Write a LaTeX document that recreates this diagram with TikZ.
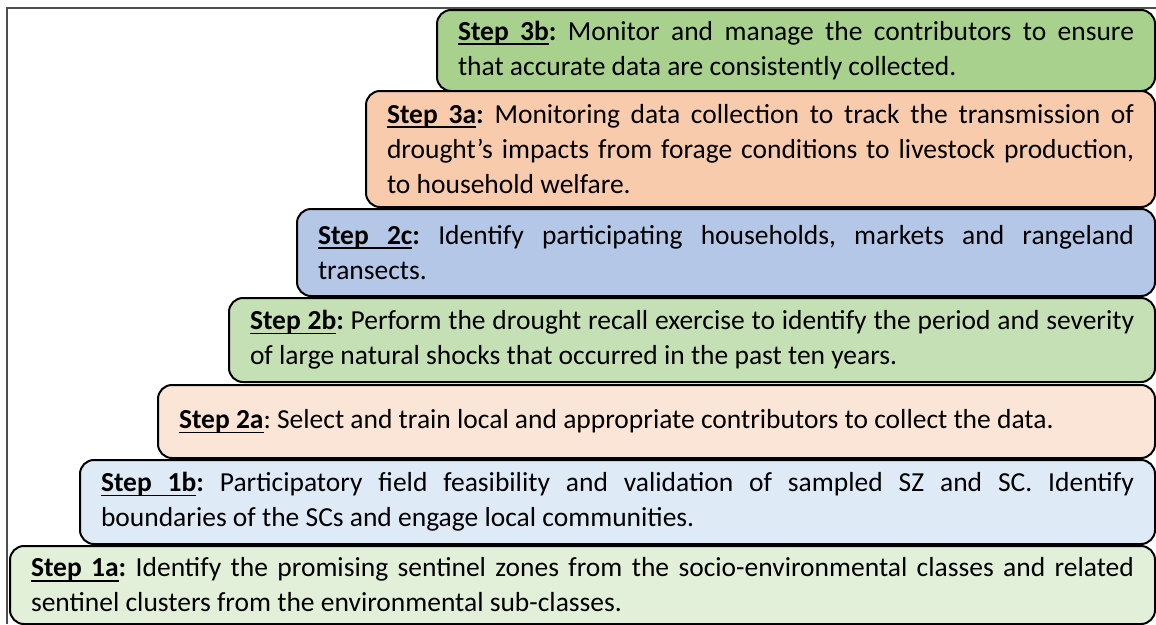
\documentclass[tikz,border=0pt]{standalone}
\usepackage{fontspec}
\setmainfont{Carlito}
\frenchspacing
\definecolor{c3b}{HTML}{A9D18E}
\definecolor{c3a}{HTML}{F8CBAD}
\definecolor{c2c}{HTML}{B4C7E7}
\definecolor{c2b}{HTML}{C5E0B4}
\definecolor{c2a}{HTML}{FBE5D6}
\definecolor{c1b}{HTML}{DEEBF7}
\definecolor{c1a}{HTML}{E2F0D9}
\definecolor{framegray}{HTML}{4D4D4D}
% underlined word, and an underlined stretchable space between two words
\newcommand{\uword}[1]{\setbox0\hbox{#1}\rlap{\rule[-4.6pt]{\wd0}{1.8pt}}\box0}
\newcommand{\steplabel}[2]{{\bfseries\uword{#1}\leaders\hrule height -2.8pt depth 4.6pt\hskip\fontdimen2\font plus\fontdimen3\font minus\fontdimen4\font\uword{#2}}}
\begin{document}
\begin{tikzpicture}[x=1pt,y=-1pt,
  stepbox/.style={draw=black, line width=2pt, rounded corners=14pt,
    anchor=north west, inner xsep=21pt, inner ysep=0pt, align=justify,
    font=\fontsize{27.5}{35}\selectfont},
]
\useasboundingbox (0,0) rectangle (1156,624);
% outer frame
\draw[framegray, line width=2.5pt] (7,624) -- (7,8) -- (1156,8);

\node[stepbox, fill=c3b, text width=676pt, minimum height=81pt] (s3b) at (436,9)
  {\steplabel{Step}{3b}\textbf{:} Monitor and manage the contributors to ensure\linebreak{} that accurate data are consistently collected.};
\node[stepbox, fill=c3a, text width=747pt, minimum height=116pt] (s3a) at (365,90)
  {\steplabel{Step}{3a}\textbf{:} Monitoring data collection to track the transmission of\linebreak{} drought’s impacts from forage conditions to livestock production,\linebreak{} to household welfare.};
\node[stepbox, fill=c2c, text width=816pt, minimum height=87pt] (s2c) at (296,208)
  {\steplabel{Step}{2c}\textbf{:} Identify participating households, markets and rangeland\linebreak{} transects.};
\node[stepbox, fill=c2b, text width=884pt, minimum height=84pt] (s2b) at (228,297)
  {\steplabel{Step}{2b}\textbf{:} Perform the drought recall exercise to identify the period and severity\linebreak{} of large natural shocks that occurred in the past ten years.};
\node[stepbox, fill=c2a, text width=955pt, minimum height=73pt] (s2a) at (157,384)
  {\steplabel{Step}{2a}: Select and train local and appropriate contributors to collect the data.};
\node[stepbox, fill=c1b, text width=1033pt, minimum height=84pt] (s1b) at (79,459)
  {\steplabel{Step}{1b}\textbf{:} Participatory field feasibility and validation of sampled SZ and SC. Identify\linebreak{} boundaries of the SCs and engage local communities.};
\node[stepbox, fill=c1a, text width=1103pt, minimum height=78pt] (s1a) at (9,545)
  {\steplabel{Step}{1a}\textbf{:} Identify the promising sentinel zones from the socio-environmental classes and related\linebreak{} sentinel clusters from the environmental sub-classes.};
\end{tikzpicture}
\end{document}
